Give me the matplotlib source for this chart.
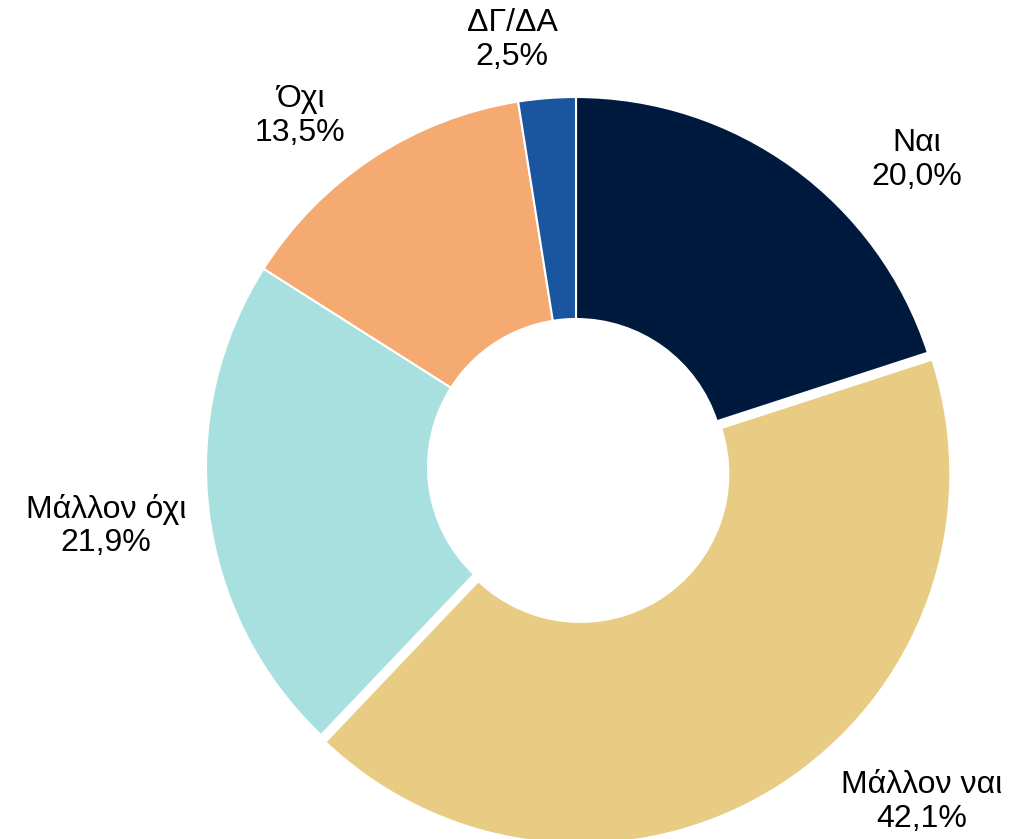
import matplotlib
matplotlib.use("Agg")
import matplotlib.pyplot as plt
import numpy as np

categories = ["Ναι", "Μάλλον ναι", "Μάλλον όχι", "Όχι", "ΔΓ/ΔΑ"]
values = [20.0, 42.1, 21.9, 13.5, 2.5]
colors = ["#001A3E", "#E9CC84", "#A8E0E0", "#F5AA71", "#1A55A0"]
explode_frac = [0.0, 0.022, 0.0, 0.0, 0.0]

# label anchor positions (pixel coordinates, y from top)
label_pos = [(917, 160), (922, 802), (106, 526), (300, 116), (512, 40)]

plt.rcParams['font.family'] = ['Liberation Sans', 'DejaVu Sans']

W, H = 1010, 839
fig = plt.figure(figsize=(W / 100, H / 100), dpi=100)
ax = fig.add_axes([0, 0, 1, 1])
cx, cy, R = 576, H - 467, 370

ax.pie(values, colors=colors, startangle=90, counterclock=False,
       radius=R, center=(cx, cy), explode=[e * R for e in explode_frac],
       wedgeprops=dict(width=R * 0.6, edgecolor="white", linewidth=1.5))

for cat, v, (px, py) in zip(categories, values, label_pos):
    ax.text(px, H - py, f"{cat}\n{v:.1f}%".replace(".", ","), ha="center", va="center",
            fontsize=23, color="#000000", linespacing=1.15)

ax.set_xlim(0, W)
ax.set_ylim(0, H)
ax.set_aspect("equal")
ax.axis("off")
fig.savefig("out.png", dpi=100)
